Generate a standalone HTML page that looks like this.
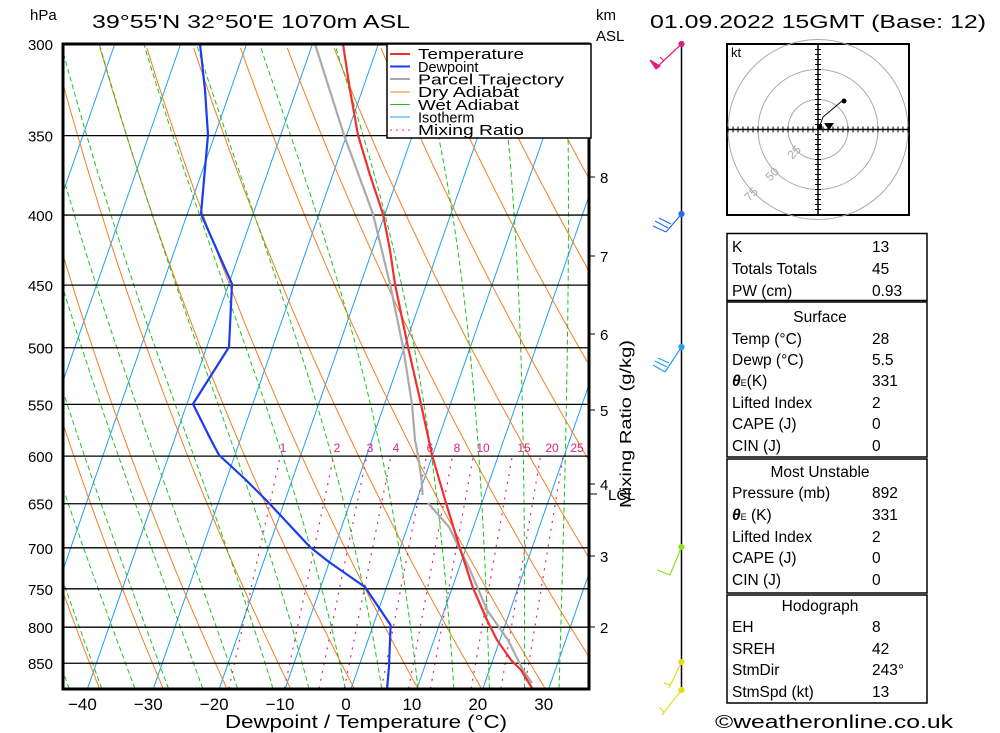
<!DOCTYPE html>
<html><head><meta charset="utf-8"><style>
html,body{margin:0;padding:0;background:#fff;}
svg{display:block;font-family:"Liberation Sans",sans-serif;}
</style></head><body>
<svg id="s" width="1000" height="733" viewBox="0 0 1000 733" xmlns="http://www.w3.org/2000/svg">
<defs><clipPath id="c"><rect x="63" y="44" width="526" height="645"/></clipPath></defs>
<rect width="1000" height="733" fill="#fff"/>
<g id="bg" clip-path="url(#c)"></g>
<g id="fg"></g>
<!-- header -->
<text x="30" y="20" font-size="15">hPa</text>
<text x="92" y="28" font-size="18" textLength="318" lengthAdjust="spacingAndGlyphs">39°55'N  32°50'E  1070m  ASL</text>
<text x="596" y="20" font-size="15">km</text>
<text x="596" y="41" font-size="15">ASL</text>
<text x="650" y="28" font-size="18" textLength="336" lengthAdjust="spacingAndGlyphs">01.09.2022  15GMT  (Base: 12)</text>
<!-- axis labels -->
<text x="366" y="728" font-size="18" text-anchor="middle" textLength="282" lengthAdjust="spacingAndGlyphs">Dewpoint / Temperature (°C)</text>
<text transform="translate(631,424) rotate(-90)" font-size="16" text-anchor="middle" textLength="168" lengthAdjust="spacingAndGlyphs">Mixing Ratio (g/kg)</text>
<text x="715" y="728" font-size="18" textLength="238" lengthAdjust="spacingAndGlyphs">©weatheronline.co.uk</text>
<!-- legend -->
<g>
<rect x="387" y="44" width="204" height="94" fill="#fff" stroke="#000" stroke-width="1.5"/>
<g stroke-width="2">
<line x1="390" y1="54" x2="410" y2="54" stroke="#f03030"/>
<line x1="390" y1="66.5" x2="410" y2="66.5" stroke="#1a3cf0"/>
<line x1="390" y1="79" x2="410" y2="79" stroke="#aaa"/>
<line x1="390" y1="92" x2="410" y2="92" stroke="#f08020" stroke-width="1"/>
<line x1="390" y1="104.5" x2="410" y2="104.5" stroke="#20c020" stroke-width="1"/>
<line x1="390" y1="117" x2="410" y2="117" stroke="#20a0f0" stroke-width="1"/>
<line x1="390" y1="130" x2="410" y2="130" stroke="#e0207f" stroke-dasharray="2,4" stroke-width="1"/>
</g>
<g font-size="14.5">
<text x="418" y="59" textLength="106" lengthAdjust="spacingAndGlyphs">Temperature</text>
<text x="418" y="72">Dewpoint</text>
<text x="418" y="84.5" textLength="146" lengthAdjust="spacingAndGlyphs">Parcel Trajectory</text>
<text x="418" y="97" textLength="101" lengthAdjust="spacingAndGlyphs">Dry Adiabat</text>
<text x="418" y="110" textLength="101" lengthAdjust="spacingAndGlyphs">Wet Adiabat</text>
<text x="418" y="122.5">Isotherm</text>
<text x="418" y="135" textLength="106" lengthAdjust="spacingAndGlyphs">Mixing Ratio</text>
</g>
</g>
<!-- hodograph -->
<g>
<rect x="727" y="44" width="182" height="171" fill="#fff" stroke="#000" stroke-width="2"/>
<g fill="none" stroke="#aaa" stroke-width="1">
<circle cx="818" cy="129.5" r="30"/><circle cx="818" cy="129.5" r="60"/><circle cx="818" cy="129.5" r="90"/>
</g>
<line x1="727" y1="129.5" x2="909" y2="129.5" stroke="#000" stroke-width="1.5"/>
<line x1="818" y1="44" x2="818" y2="215" stroke="#000" stroke-width="1.5"/>
<g id="hticks" stroke="#000" stroke-width="1"></g>
<g font-size="12" fill="#aaa">
<text transform="translate(797,155) rotate(-45)" text-anchor="middle">25</text>
<text transform="translate(775,177) rotate(-45)" text-anchor="middle">50</text>
<text transform="translate(754,197) rotate(-45)" text-anchor="middle">75</text>
</g>
<text x="731" y="57" font-size="13">kt</text>
<polyline points="820,125 823,117 842,101" fill="none" stroke="#000" stroke-width="1"/>
<circle cx="844" cy="101" r="2.5"/>
<rect x="817" y="124" width="5" height="5"/>
<polygon points="824,123 834,123 829,130"/>
</g>
<!-- table -->
<g fill="none" stroke="#000" stroke-width="1.5">
<rect x="727" y="233.5" width="200" height="67"/>
<rect x="727" y="302" width="200" height="155"/>
<rect x="727" y="459" width="200" height="134"/>
<rect x="727" y="595" width="200" height="108"/>
</g>
<g font-size="15.5">
<text x="732" y="252">K</text><text x="872" y="252">13</text>
<text x="732" y="274">Totals Totals</text><text x="872" y="274">45</text>
<text x="732" y="296">PW (cm)</text><text x="872" y="296">0.93</text>
<text x="820" y="322" text-anchor="middle">Surface</text>
<text x="732" y="344">Temp (°C)</text><text x="872" y="344">28</text>
<text x="732" y="365">Dewp (°C)</text><text x="872" y="365">5.5</text>
<text x="732" y="386"><tspan font-weight="bold" font-style="italic">θ</tspan><tspan font-size="9">E</tspan>(K)</text><text x="872" y="386">331</text>
<text x="732" y="408">Lifted Index</text><text x="872" y="408">2</text>
<text x="732" y="429">CAPE (J)</text><text x="872" y="429">0</text>
<text x="732" y="451">CIN (J)</text><text x="872" y="451">0</text>
<text x="820" y="477" text-anchor="middle">Most Unstable</text>
<text x="732" y="498">Pressure (mb)</text><text x="872" y="498">892</text>
<text x="732" y="520"><tspan font-weight="bold" font-style="italic">θ</tspan><tspan font-size="9">E</tspan> (K)</text><text x="872" y="520">331</text>
<text x="732" y="542">Lifted Index</text><text x="872" y="542">2</text>
<text x="732" y="563">CAPE (J)</text><text x="872" y="563">0</text>
<text x="732" y="585">CIN (J)</text><text x="872" y="585">0</text>
<text x="820" y="611" text-anchor="middle">Hodograph</text>
<text x="732" y="632">EH</text><text x="872" y="632">8</text>
<text x="732" y="654">SREH</text><text x="872" y="654">42</text>
<text x="732" y="675">StmDir</text><text x="872" y="675">243°</text>
<text x="732" y="697">StmSpd (kt)</text><text x="872" y="697">13</text>
</g>
<!-- wind column -->
<g>
<line x1="681.5" y1="44" x2="681.5" y2="690" stroke="#000" stroke-width="1.5"/>
<g stroke="#e0207f" stroke-width="1.2" fill="#e0207f">
<line x1="681.5" y1="44" x2="658" y2="66"/>
<polygon points="650,60 660,66 656,69"/>
<line x1="664" y1="61" x2="660" y2="57"/>
<circle cx="681.5" cy="44" r="2.5"/>
</g>
<g stroke="#2070f0" stroke-width="1.2" fill="#2070f0">
<line x1="681.5" y1="214" x2="666" y2="232"/>
<line x1="666" y1="232" x2="653" y2="226"/><line x1="668" y1="228" x2="655" y2="221"/><line x1="671" y1="224" x2="659" y2="218"/>
<circle cx="681.5" cy="214" r="2.5"/>
</g>
<g stroke="#20a0f0" stroke-width="1.2" fill="#20a0f0">
<line x1="681.5" y1="347" x2="665" y2="372"/>
<line x1="665" y1="372" x2="653" y2="365"/><line x1="667" y1="367" x2="655" y2="361"/><line x1="669" y1="363" x2="658" y2="358"/>
<circle cx="681.5" cy="347" r="2.5"/>
</g>
<g stroke="#90e020" stroke-width="1.2" fill="#90e020">
<line x1="681.5" y1="547" x2="670" y2="575"/><line x1="670" y1="575" x2="657" y2="570"/>
<circle cx="681.5" cy="547" r="2.5"/>
</g>
<g stroke="#e0e020" stroke-width="1.2" fill="#e0e020">
<line x1="681.5" y1="662" x2="669" y2="688"/><line x1="670" y1="685" x2="664" y2="683"/>
<circle cx="681.5" cy="662" r="2.5"/>
<line x1="681.5" y1="690" x2="662" y2="715"/><line x1="664" y1="712" x2="659" y2="707"/>
<circle cx="681.5" cy="690" r="2.5"/>
</g>
</g>
<script>
var NS="http://www.w3.org/2000/svg";
function Y(p){return 44+594.6*Math.log(p/300);}
function X(T,p){return 351+6.59*T+0.349*(689-Y(p));}
function el(par,tag,at){var e=document.createElementNS(NS,tag);for(var k in at)e.setAttribute(k,at[k]);par.appendChild(e);return e;}
var bg=document.getElementById('bg'),fg=document.getElementById('fg');
var PB=887;
function poly(pts,at){var s=pts.map(function(q){return q[0].toFixed(1)+','+q[1].toFixed(1)}).join(' ');at.points=s;at.fill='none';return el(bg,'polyline',at);}
for(var T=-130;T<=40;T+=10){poly([[X(T,PB),Y(PB)],[X(T,300),Y(300)]],{stroke:'#20a0f0','stroke-width':1});}
for(var th=-40;th<=200;th+=10){var pts=[];for(var p=PB;p>=299;p-=5){var Tk=(th+273.15)*Math.pow(p/1000,0.2857);pts.push([X(Tk-273.15,p),Y(p)]);}poly(pts,{stroke:'#f08020','stroke-width':1});}
function es(Tc){return 6.112*Math.exp(17.67*Tc/(Tc+243.5));}
function dTdlnp(Tk,p){var e=es(Tk-273.15);var r=0.622*e/(p-e);var L=2.5e6,Rd=287,cp=1005;return (Rd*Tk+L*r)/(cp+L*L*r*0.622/(Rd*Tk*Tk));}
for(var tw=-45;tw<=45;tw+=5){var Tk=tw+273.15,pts=[];var dl=-0.004;
 var lp=Math.log(1000);
 while(Math.exp(lp)>299){var pp=Math.exp(lp);if(pp<=PB+1)pts.push([X(Tk-273.15,pp),Y(pp)]);
  var k1=dTdlnp(Tk,pp);var k2=dTdlnp(Tk+k1*dl/2,Math.exp(lp+dl/2));Tk+=k2*dl;lp+=dl;}
 poly(pts,{stroke:'#20c020','stroke-width':1,'stroke-dasharray':'5,3'});}
var ws=[1,2,3,4,6,8,10,15,20,25];
var lx=[283,337,370,396,430,457,483,524,552,577];
function Tw(w,p){var e=p*w/(622+w);var l=Math.log(e/6.112);return 243.5*l/(17.67-l);}
ws.forEach(function(w,i){poly([[X(Tw(w,PB),PB),Y(PB)],[X(Tw(w,600),600),Y(600)]],{stroke:'#e0207f','stroke-width':1.2,'stroke-dasharray':'2,6'});
 var t=el(fg,'text',{x:lx[i],y:452,'font-size':12,fill:'#e0207f','text-anchor':'middle'});t.textContent=w;});
[300,350,400,450,500,550,600,650,700,750,800,850].forEach(function(p){var y=Y(p);el(fg,'line',{x1:63,x2:589,y1:y,y2:y,stroke:'#000','stroke-width':1.3});
 var t=el(fg,'text',{x:53,y:y+6,'font-size':15,'text-anchor':'end'});t.textContent=p;});
function dpoly(pts,col,w){el(fg,'polyline',{points:pts.map(function(q){return q.join(',')}).join(' '),fill:'none',stroke:col,'stroke-width':w,'stroke-linejoin':'round'});}
dpoly([[315,44],[344,135],[373,214],[390,284],[403,347],[412,404],[415,440],[418,455],[421.6,480],[422.6,495]],'#aaa',2.2);
dpoly([[428,503],[449,527],[470,570],[487,610],[508,640],[523,670],[532,683]],'#aaa',2.2);
dpoly([[343,44],[350,90],[358,135],[370,175],[383,214],[390,250],[395,284],[408,347],[421,404],[432,455],[446,503],[459.5,547],[473,588],[487,620],[497,640],[511,660],[521,670],[532,688]],'#f03030',2.2);
dpoly([[200,44],[205,90],[208,135],[204,180],[201,214],[232,284],[229,347],[193,404],[211,440],[219,455],[246,480],[268,502],[310,547],[329,562],[365,587],[390.6,625],[389,667],[387,689]],'#1a3cf0',2.2);
el(fg,'rect',{x:63,y:44,width:526,height:645,fill:'none',stroke:'#000','stroke-width':3});
[-40,-30,-20,-10,0,10,20,30].forEach(function(T){var t=el(fg,'text',{x:346+6.59*T,y:710,'font-size':17,'text-anchor':'middle'});t.textContent=(T<0?'\u2212'+(-T):T);});
[[8,177],[7,256],[6,334],[5,410],[4,484],[3,556],[2,627]].forEach(function(a){el(fg,'line',{x1:589,x2:595,y1:a[1],y2:a[1],stroke:'#000'});var t=el(fg,'text',{x:600,y:a[1]+6,'font-size':15});t.textContent=a[0];});
el(fg,'line',{x1:589,x2:597,y1:494,y2:494,stroke:'#000'});
var t=el(fg,'text',{x:608,y:500,'font-size':15});t.textContent='LCL';
var ht=document.getElementById('hticks');
for(var d=-90;d<=90;d+=5){if(d==0)continue;el(ht,'line',{x1:818+d,x2:818+d,y1:126.5,y2:132.5});if(Math.abs(d)<=85)el(ht,'line',{x1:815,x2:821,y1:129.5+d,y2:129.5+d});}
</script>
</svg>
</body></html>
